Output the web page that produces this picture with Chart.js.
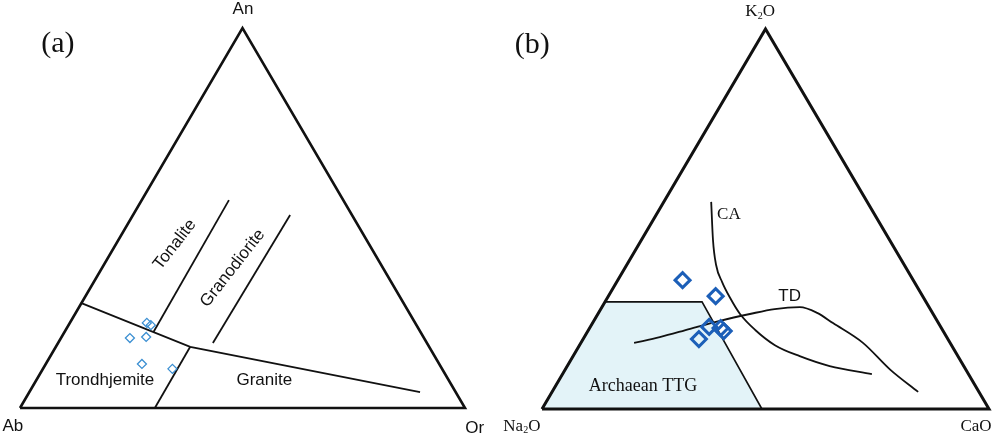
<!DOCTYPE html>
<html><head><meta charset="utf-8">
<script src="https://cdn.jsdelivr.net/npm/chart.js@4"></script>
<style>
html,body{margin:0;padding:0;background:#fff;width:1004px;height:437px;overflow:hidden}
canvas{position:absolute;top:0}
#ca{left:0}#cb{left:502px}
</style></head>
<body>
<canvas id="ca" width="502" height="437"></canvas>
<canvas id="cb" width="502" height="437"></canvas>
<script>
// ---------- Panel (a): An–Ab–Or, pairs are [Or %, An %] ----------
const aTriangle = [[0,0],[100,0],[0,100],[0,0]];
const aLineMain = [[0,27.6],[30.2,16.1],[87.8,4.2]];
const aLineTrondGranite = [[30.2,16.1],[30.3,0]];
const aLineTonGrano = [[20.0,20.0],[19.6,54.7]];
const aLineGranoGranite = [[34.8,17.1],[35.3,50.8]];
const aSampleOr = [17.3,18.5,15.5,19.0,21.6,29.1];
const aSampleAn = [22.4,21.8,18.4,18.7,11.6,10.3];

// ---------- Panel (b): K2O–Na2O–CaO, pairs are [CaO %, K2O %] ----------
const bTriangle = [[0,0],[100,0],[0,100],[0,0]];
const bTTG = [[0,0],[0,28.2],[21.7,28.2],[49.2,0]];
const bCA = [[10.6,54.5],[16.0,44.5],[20.0,37.9],[23.6,33.4],[27.5,29.2],[31.8,25.0],[37.3,20.8],[43.7,16.8],[50.7,13.9],[58.7,11.3],[69.2,9.2]];
const bTD = [[11.9,17.4],[16.9,18.9],[22.6,21.1],[28.2,23.2],[34.0,25.0],[38.9,26.3],[44.3,26.8],[48.9,25.3],[53.8,22.6],[63.1,17.4],[72.8,10.3],[81.9,4.5]];
const bSampleCaO = [14.5,24.0,26.6,29.3,30.4,25.9];
const bSampleK2O = [33.9,29.7,21.6,21.3,20.5,18.4];

// ternary -> cartesian (right-vertex %, top-vertex %)
const tern = (r, t) => ({x: r + t / 2, y: t});
const toPts = arr => arr.map(p => tern(p[0], p[1]));

const SANS = '"Liberation Sans", Arial, sans-serif';
const SERIF = '"Liberation Serif", "Times New Roman", serif';

const labelsA = [
  {parts:[{t:'An'}], x:50.1, y:105.0, font:SANS, size:17},
  {parts:[{t:'Ab'}], x:-1.6, y:-4.7, font:SANS, size:17},
  {parts:[{t:'Or'}], x:102.2, y:-5.3, font:SANS, size:17},
  {parts:[{t:'(a)'}], x:8.5, y:95.8, font:SERIF, size:30},
  {parts:[{t:'Tonalite'}], x:34.8, y:43.0, font:SANS, size:17, rot:-52},
  {parts:[{t:'Granodiorite'}], x:47.8, y:36.8, font:SANS, size:17, rot:-52},
  {parts:[{t:'Trondhjemite'}], x:19.1, y:7.4, font:SANS, size:17},
  {parts:[{t:'Granite'}], x:54.9, y:7.4, font:SANS, size:17}
];
const labelsB = [
  {parts:[{t:'K'},{t:'2',sub:true},{t:'O'}], x:48.8, y:104.7, font:SERIF, size:17},
  {parts:[{t:'Na'},{t:'2',sub:true},{t:'O'}], x:-4.5, y:-4.5, font:SERIF, size:17},
  {parts:[{t:'CaO'}], x:97.1, y:-4.5, font:SERIF, size:17},
  {parts:[{t:'(b)'}], x:-2.2, y:95.8, font:SERIF, size:30},
  {parts:[{t:'CA'}], x:41.8, y:51.2, font:SERIF, size:17},
  {parts:[{t:'TD'}], x:55.4, y:29.6, font:SANS, size:17},
  {parts:[{t:'Archaean TTG'}], x:22.6, y:6.1, font:SERIF, size:18}
];

const textPlugin = {
  id: 'ternLabels',
  afterDatasetsDraw(chart, args, opts) {
    const ctx = chart.ctx, sx = chart.scales.x, sy = chart.scales.y;
    (opts.items || []).forEach(l => {
      const px = sx.getPixelForValue(l.x), py = sy.getPixelForValue(l.y);
      ctx.save();
      ctx.translate(px, py);
      if (l.rot) ctx.rotate(l.rot * Math.PI / 180);
      ctx.fillStyle = '#111';
      ctx.textBaseline = 'middle';
      ctx.textAlign = 'left';
      const subSize = Math.round(l.size * 0.6);
      let w = 0;
      l.parts.forEach(p => {
        ctx.font = (p.sub ? subSize : l.size) + 'px ' + l.font;
        p.w = ctx.measureText(p.t).width; w += p.w;
      });
      let cx = -w / 2;
      l.parts.forEach(p => {
        ctx.font = (p.sub ? subSize : l.size) + 'px ' + l.font;
        ctx.fillText(p.t, cx, p.sub ? l.size * 0.28 : 0);
        cx += p.w;
      });
      ctx.restore();
    });
  }
};

const lineDs = (pts, width, order) => ({
  type: 'scatter', data: toPts(pts), showLine: true, borderColor: '#111',
  borderWidth: width, pointRadius: 0, fill: false, clip: false, tension: 0, order: order
});

function makeChart(id, padding, datasets, labels) {
  return new Chart(document.getElementById(id), {
    type: 'scatter',
    data: {datasets},
    options: {
      responsive: false, animation: false, devicePixelRatio: 1,
      layout: {padding},
      plugins: {legend: {display: false}, tooltip: {enabled: false}, ternLabels: {items: labels}},
      scales: {
        x: {type: 'linear', min: 0, max: 100, display: false},
        y: {type: 'linear', min: 0, max: 100, display: false}
      }
    },
    plugins: [textPlugin]
  });
}

// Panel (a)
makeChart('ca', {left:20, right:37, top:28, bottom:29}, [
  lineDs(aTriangle, 2.6, 5),
  lineDs(aLineMain, 1.8, 4),
  lineDs(aLineTrondGranite, 1.8, 4),
  lineDs(aLineTonGrano, 1.8, 4),
  lineDs(aLineGranoGranite, 1.8, 4),
  {type:'scatter', data: aSampleOr.map((o, i) => tern(o, aSampleAn[i])),
   pointStyle:'rectRot', pointRadius:4.5, borderWidth:1.3, borderColor:'#3b8fd2',
   backgroundColor:'rgba(0,0,0,0)', clip:false, order:0}
], labelsA);

// Panel (b)
makeChart('cb', {left:40, right:15, top:29, bottom:28}, [
  {type:'scatter', data: toPts(bTTG), showLine:true, borderColor:'#111', borderWidth:1.6,
   backgroundColor:'#e3f3f8', fill:'origin', pointRadius:0, clip:false, tension:0, order:10},
  lineDs(bTriangle, 3, 5),
  Object.assign(lineDs(bCA, 1.8, 4), {cubicInterpolationMode: 'monotone'}),
  Object.assign(lineDs(bTD, 1.8, 4), {cubicInterpolationMode: 'monotone'}),
  {type:'scatter', data: bSampleCaO.map((c, i) => tern(c, bSampleK2O[i])),
   pointStyle:'rectRot', pointRadius:7.5, borderWidth:3, borderColor:'#1c5fb8',
   backgroundColor:'rgba(0,0,0,0)', clip:false, order:0}
], labelsB);
</script>
</body></html>
